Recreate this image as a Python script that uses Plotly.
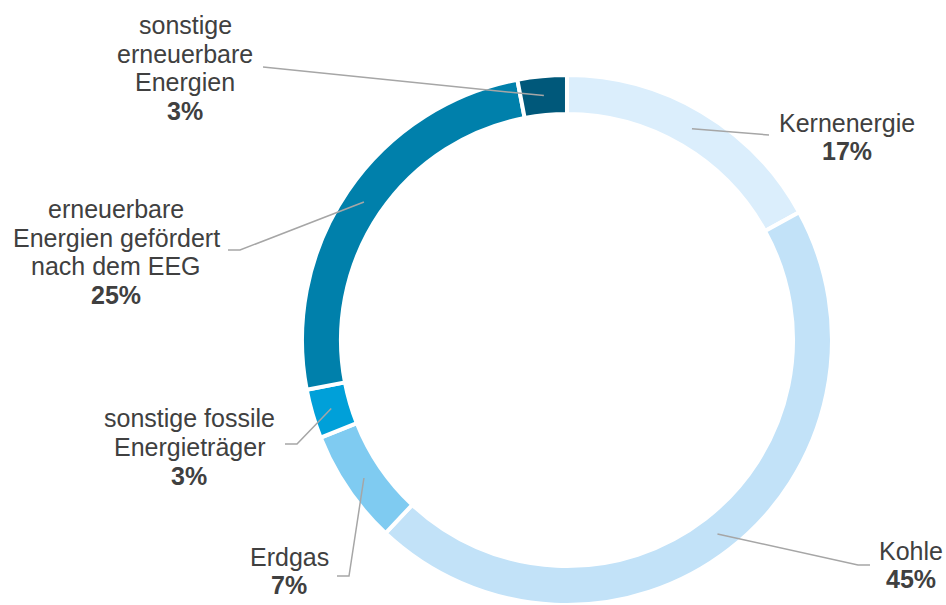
import math
import plotly.graph_objects as go

# ---- data ----
categories = ["Kernenergie", "Kohle", "Erdgas", "sonstige fossile\nEnergieträger",
              "erneuerbare\nEnergien gefördert\nnach dem EEG", "sonstige\nerneuerbare\nEnergien"]
values = [17, 45, 7, 3, 25, 3]
colors = ["#dbeefc", "#c2e2f8", "#7fcbf1", "#00a0d9", "#0080ab", "#00587a"]

# ---- layout constants ----
W, H = 946, 605
dom_x = [0.3192, 0.8795]
dom_y = [0.0, 0.876]
hole = 0.853

# label block centres (px) and leader line path after the ring anchor (px)
label_pos = [(847, 137), (911, 565), (289, 571), (189, 447), (116, 252), (185, 68)]
leader_tail = [
    [(769, 135)],
    [(858, 565), (870, 565)],
    [(349, 576), (337, 576)],
    [(297, 444), (285, 444)],
    [(240, 250), (228, 250)],
    [(263, 67)],
]
line_gap = 28.7
text_color = "#404040"
font_family = "Liberation Sans, Arial, sans-serif"

fig = go.Figure(go.Pie(
    labels=[c.replace("\n", " ") for c in categories],
    values=values,
    sort=False,
    direction="clockwise",
    rotation=0,
    hole=hole,
    marker=dict(colors=colors, line=dict(color="white", width=4)),
    textinfo="none",
    hoverinfo="label+percent",
    domain=dict(x=dom_x, y=dom_y),
    showlegend=False,
))

# pie geometry in px
cx = (dom_x[0] + dom_x[1]) / 2 * W
cy = H - (dom_y[0] + dom_y[1]) / 2 * H
R = min((dom_x[1] - dom_x[0]) * W, (dom_y[1] - dom_y[0]) * H) / 2
r_mid = R * (1 + hole) / 2

def px2paper(x, y):
    return x / W, 1 - y / H

total = sum(values)
cum = 0
annotations = []
shapes = []
for i, (cat, v) in enumerate(zip(categories, values)):
    mid = (cum + v / 2) / total * 2 * math.pi
    cum += v
    sx = cx + r_mid * math.sin(mid)
    sy = cy - r_mid * math.cos(mid)
    pts = [(sx, sy)] + leader_tail[i]
    path = ""
    for j, (x, y) in enumerate(pts):
        px, py = px2paper(x, y)
        path += ("M" if j == 0 else " L") + f"{px:.5f},{py:.5f}"
    shapes.append(dict(type="path", xref="paper", yref="paper", path=path,
                       line=dict(color="#a6a6a6", width=1.5)))
    lines = cat.split("\n") + [f"<b>{v / total * 100:.0f}%</b>"]
    bx, by = label_pos[i]
    n = len(lines)
    for k, t in enumerate(lines):
        ly = by + (k - (n - 1) / 2) * line_gap
        ax, ay = px2paper(bx, ly)
        annotations.append(dict(x=ax, y=ay, xref="paper", yref="paper", text=t,
                                showarrow=False, xanchor="center", yanchor="middle",
                                font=dict(size=25, color=text_color, family=font_family)))

fig.update_layout(
    width=W, height=H,
    margin=dict(l=0, r=0, t=0, b=0),
    paper_bgcolor="white", plot_bgcolor="white",
    annotations=annotations,
    shapes=shapes,
)

fig.write_html("out.html", config={"displayModeBar": False},
               post_script="document.body.style.margin='0';document.body.style.overflow='hidden';")
